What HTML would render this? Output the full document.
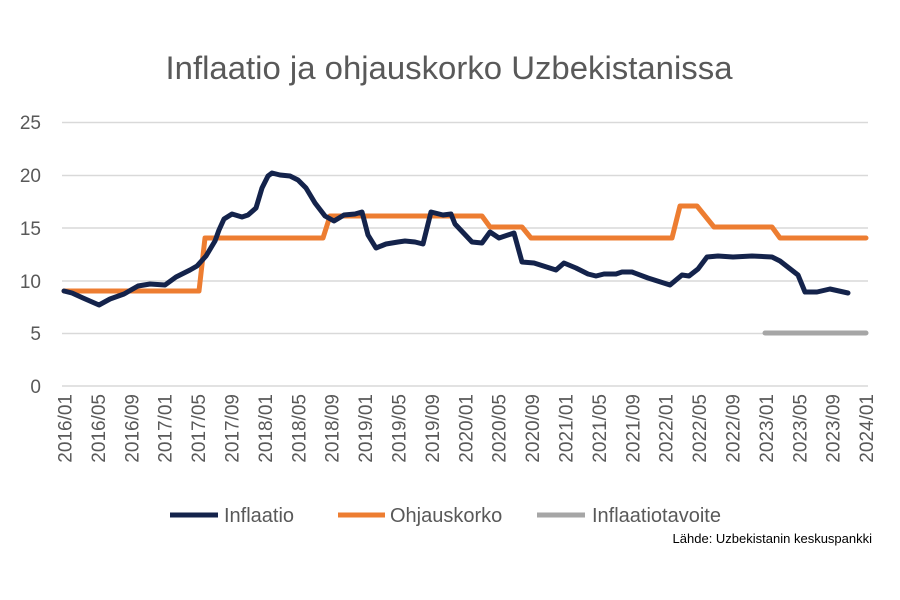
<!DOCTYPE html>
<html><head><meta charset="utf-8"><style>
body{margin:0;background:#fff}
svg{display:block;font-family:"Liberation Sans",sans-serif}
</style></head><body>
<svg width="900" height="600" viewBox="0 0 900 600">
<text x="449" y="79" text-anchor="middle" font-size="32" fill="#595959" textLength="567" lengthAdjust="spacingAndGlyphs">Inflaatio ja ohjauskorko Uzbekistanissa</text>
<g stroke="#d9d9d9" stroke-width="1.5">
<line x1="62" x2="868" y1="122.5" y2="122.5"/>
<line x1="62" x2="868" y1="175.5" y2="175.5"/>
<line x1="62" x2="868" y1="228" y2="228"/>
<line x1="62" x2="868" y1="281" y2="281"/>
<line x1="62" x2="868" y1="333.5" y2="333.5"/>
<line x1="62" x2="868" y1="386" y2="386"/>
</g>
<g font-size="19" fill="#595959" text-anchor="end">
<text x="41" y="129">25</text><text x="41" y="182">20</text><text x="41" y="235">15</text>
<text x="41" y="288">10</text><text x="41" y="340">5</text><text x="41" y="393">0</text>
</g>
<polyline fill="none" stroke="#a6a6a6" stroke-width="5" stroke-linecap="round" points="765,333 866,333"/>
<polyline fill="none" stroke="#ed7d31" stroke-width="5" stroke-linejoin="round" stroke-linecap="round" points="64,291 199,291 205,238 323,238 330,216 482,216 490,227 522,227 531,238 672,238 680,206 697,206 714,227 772,227 780,238 866,238"/>
<polyline fill="none" stroke="#14234b" stroke-width="5" stroke-linejoin="round" stroke-linecap="round" points="64,291 72,293 83,298 99,305 110,299 124,294 138,286 150,284 165,285 176,277 190,270 197,266 206,256 215,241 219,230 224,219 232,214 242,217 248,215 256,208 262,188 268,176 272,173 280,175 290,176 298,180 306,188 315,203 325,216 334,221 344,215 355,214 362,212 368,235 376,248 386,244 398,242 405,241 415,242 423,244 431,212 443,215 451,214 455,224 472,242 482,243 490,232 499,238 514,233 522,262 534,263 556,270 564,263 576,268 588,274 596,276 604,274 616,274 622,272 632,272 648,278 670,285 682,275 689,276 698,269 707,257 718,256 733,257 752,256 772,257 780,261 798,275 805,292 817,292 830,289 848,293"/>
<g font-size="20" fill="#595959">
<line x1="170" x2="218" y1="515" y2="515" stroke="#14234b" stroke-width="5"/>
<text x="224" y="522">Inflaatio</text>
<line x1="338" x2="385" y1="515" y2="515" stroke="#ed7d31" stroke-width="5"/>
<text x="390" y="522">Ohjauskorko</text>
<line x1="537" x2="585" y1="515" y2="515" stroke="#a6a6a6" stroke-width="5"/>
<text x="592" y="522">Inflaatiotavoite</text>
</g>
<text x="872" y="543" font-size="13" fill="#000" text-anchor="end">Lähde: Uzbekistanin keskuspankki</text>
<g font-size="19" fill="#595959" text-anchor="end">
<text transform="translate(71.5,394) rotate(-90)">2016/01</text>
<text transform="translate(104.9,394) rotate(-90)">2016/05</text>
<text transform="translate(138.3,394) rotate(-90)">2016/09</text>
<text transform="translate(171.7,394) rotate(-90)">2017/01</text>
<text transform="translate(205.1,394) rotate(-90)">2017/05</text>
<text transform="translate(238.5,394) rotate(-90)">2017/09</text>
<text transform="translate(271.9,394) rotate(-90)">2018/01</text>
<text transform="translate(305.3,394) rotate(-90)">2018/05</text>
<text transform="translate(338.7,394) rotate(-90)">2018/09</text>
<text transform="translate(372.1,394) rotate(-90)">2019/01</text>
<text transform="translate(405.5,394) rotate(-90)">2019/05</text>
<text transform="translate(438.9,394) rotate(-90)">2019/09</text>
<text transform="translate(472.3,394) rotate(-90)">2020/01</text>
<text transform="translate(505.7,394) rotate(-90)">2020/05</text>
<text transform="translate(539.1,394) rotate(-90)">2020/09</text>
<text transform="translate(572.5,394) rotate(-90)">2021/01</text>
<text transform="translate(605.9,394) rotate(-90)">2021/05</text>
<text transform="translate(639.3,394) rotate(-90)">2021/09</text>
<text transform="translate(672.7,394) rotate(-90)">2022/01</text>
<text transform="translate(706.1,394) rotate(-90)">2022/05</text>
<text transform="translate(739.5,394) rotate(-90)">2022/09</text>
<text transform="translate(772.9,394) rotate(-90)">2023/01</text>
<text transform="translate(806.3,394) rotate(-90)">2023/05</text>
<text transform="translate(839.7,394) rotate(-90)">2023/09</text>
<text transform="translate(873.1,394) rotate(-90)">2024/01</text>
</g>
</svg>
</body></html>
